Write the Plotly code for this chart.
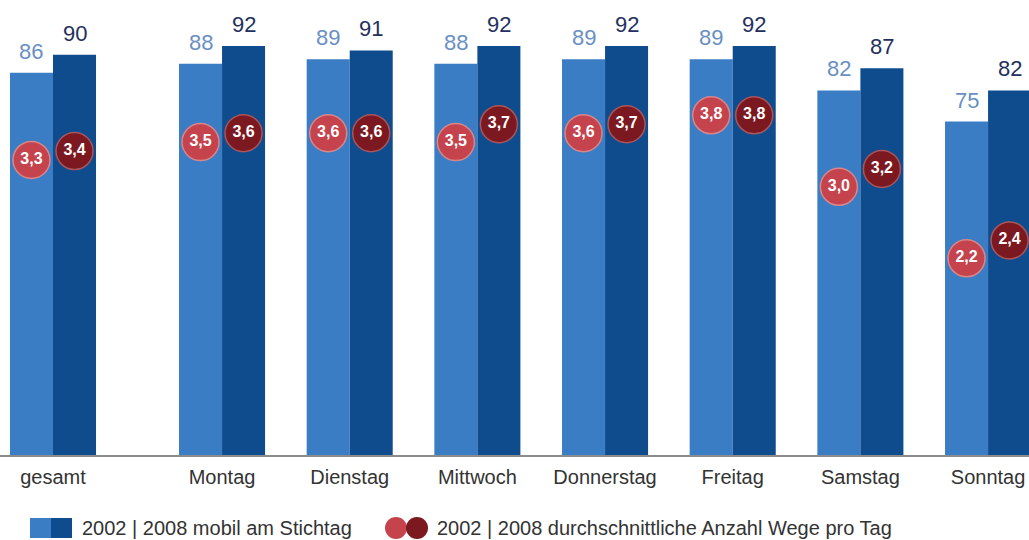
import plotly.graph_objects as go

# Daten
tage = ['gesamt', 'Montag', 'Dienstag', 'Mittwoch', 'Donnerstag', 'Freitag', 'Samstag', 'Sonntag']
mobil_2002 = [86, 88, 89, 88, 89, 89, 82, 75]
mobil_2008 = [90, 92, 91, 92, 92, 92, 87, 82]
wege_2002 = [3.3, 3.5, 3.6, 3.5, 3.6, 3.8, 3.0, 2.2]
wege_2008 = [3.4, 3.6, 3.6, 3.7, 3.7, 3.8, 3.2, 2.4]

W, H = 1029, 540
BASE = 455  # pixel row of the baseline
FONT = 'Liberation Sans, Arial, sans-serif'

# gesamt steht etwas abgesetzt von den Wochentagen
xpos = [0] + [1.324 + i for i in range(len(tage) - 1)]
bw = 0.337

HELL, DUNKEL = '#3b7dc5', '#0f4c8e'
ROT_HELL, ROT_DUNKEL = '#c5434d', '#7c1820'


def fmt(v):
    return '<b>' + f'{v:.1f}'.replace('.', ',') + '</b>'


fig = go.Figure()
fig.add_trace(go.Bar(x=xpos, y=mobil_2002, width=bw, offset=-bw,
                     marker=dict(color=HELL, line_width=0), name='2002'))
fig.add_trace(go.Bar(x=xpos, y=mobil_2008, width=bw, offset=0,
                     marker=dict(color=DUNKEL, line_width=0), name='2008'))

fig.add_trace(go.Scatter(
    x=[x - bw / 2 for x in xpos], y=wege_2002, yaxis='y2', mode='markers+text',
    marker=dict(size=37, color=ROT_HELL, line=dict(width=1.5, color='#d9868b')),
    text=[fmt(v) for v in wege_2002], textposition='middle center',
    textfont=dict(color='white', size=16, family=FONT), cliponaxis=False,
))
fig.add_trace(go.Scatter(
    x=[x + bw / 2 for x in xpos], y=wege_2008, yaxis='y2', mode='markers+text',
    marker=dict(size=37, color=ROT_DUNKEL, line=dict(width=1.5, color='#a8555b')),
    text=[fmt(v) for v in wege_2008], textposition='middle center',
    textfont=dict(color='white', size=16, family=FONT), cliponaxis=False,
))

# Werte über den Balken
for x, a, b in zip(xpos, mobil_2002, mobil_2008):
    fig.add_annotation(x=x - bw / 2, y=a, text=str(a), showarrow=False,
                       yanchor='bottom', yshift=7,
                       font=dict(size=22, color='#6a8fc3', family=FONT))
    fig.add_annotation(x=x + bw / 2, y=b, text=str(b), showarrow=False,
                       yanchor='bottom', yshift=7,
                       font=dict(size=22, color='#23305e', family=FONT))


# Legende (von Hand gebaut)
def px(v):
    return v / W


def py(v):
    return (BASE - v) / BASE


fig.add_shape(type='rect', xref='paper', yref='paper', x0=px(30), x1=px(51),
              y0=py(538), y1=py(518), fillcolor=HELL, line_width=0)
fig.add_shape(type='rect', xref='paper', yref='paper', x0=px(51), x1=px(72),
              y0=py(538), y1=py(518), fillcolor=DUNKEL, line_width=0)
fig.add_shape(type='circle', xref='paper', yref='paper', x0=px(385), x1=px(407),
              y0=py(539), y1=py(517), fillcolor=ROT_HELL, line_width=0)
fig.add_shape(type='circle', xref='paper', yref='paper', x0=px(406), x1=px(428),
              y0=py(539), y1=py(517), fillcolor=ROT_DUNKEL, line_width=0)
fig.add_annotation(xref='paper', yref='paper', x=px(80), y=py(528),
                   xanchor='left', yanchor='middle', showarrow=False,
                   text='2002 | 2008 mobil am Stichtag',
                   font=dict(size=20, color='#333333', family=FONT))
fig.add_annotation(xref='paper', yref='paper', x=px(435), y=py(528),
                   xanchor='left', yanchor='middle', showarrow=False,
                   text='2002 | 2008 durchschnittliche Anzahl Wege pro Tag',
                   font=dict(size=20, color='#333333', family=FONT))

fig.update_layout(
    width=W, height=H,
    barmode='overlay',
    showlegend=False,
    plot_bgcolor='white', paper_bgcolor='white',
    margin=dict(l=0, r=0, t=0, b=H - BASE),
    font=dict(family=FONT, color='#333333'),
    xaxis=dict(range=[-53 / 127.67, (W - 53) / 127.67], tickvals=xpos, ticktext=tage,
               tickfont=dict(size=20, color='#333333'),
               showgrid=False, zeroline=False, showline=True,
               linecolor='#8c8c8c', linewidth=2,
               ticks='outside', ticklen=3, tickcolor='rgba(0,0,0,0)'),
    yaxis=dict(range=[0, BASE / 4.446], visible=False, showgrid=False),
    yaxis2=dict(range=[0, BASE / 89.4], overlaying='y', visible=False, showgrid=False),
)

fig.write_html('out.html', config={'displayModeBar': False},
               post_script="document.body.style.margin='0';document.body.style.overflow='hidden';")
